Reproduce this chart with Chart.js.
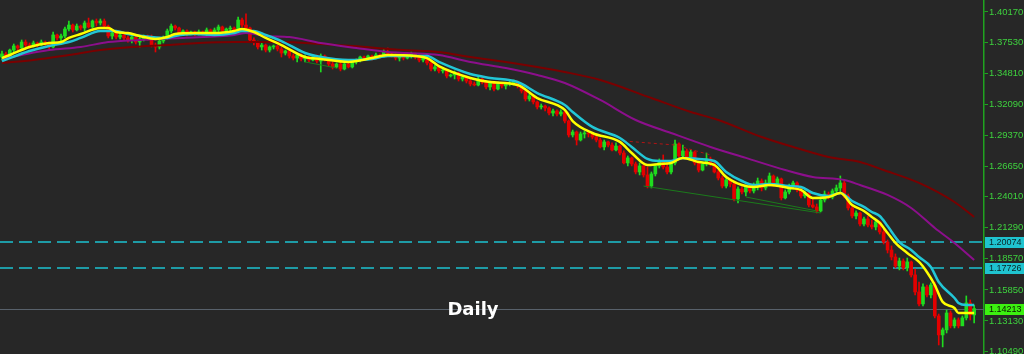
<!DOCTYPE html>
<html>
<head>
<meta charset="utf-8">
<title>Daily</title>
<script src="https://cdn.jsdelivr.net/npm/chart.js@4.4.1/dist/chart.umd.min.js"></script>
<style>
  html, body { margin: 0; padding: 0; background: #272727; overflow: hidden; }
</style>
</head>
<body>
<canvas id="priceChart" width="1024" height="354"></canvas>
<script>
// Daily candles, oldest first
const days = Array.from({ length: 250 }, (_, i) => i);

const opens = [
  1.3623,1.3650,1.3623,1.3684,1.3720,1.3702,1.3754,1.3728,1.3720,1.3746,
  1.3728,1.3754,1.3737,1.3711,1.3816,1.3790,1.3807,1.3868,1.3903,1.3860,
  1.3894,1.3877,1.3921,1.3886,1.3938,1.3921,1.3938,1.3894,1.3807,1.3833,
  1.3798,1.3816,1.3790,1.3772,1.3798,1.3754,1.3781,1.3807,1.3790,1.3728,
  1.3711,1.3763,1.3790,1.3851,1.3894,1.3877,1.3833,1.3851,1.3824,1.3842,
  1.3824,1.3842,1.3833,1.3860,1.3833,1.3860,1.3886,1.3851,1.3868,1.3877,
  1.3860,1.3947,1.3903,1.3877,1.3772,1.3754,1.3711,1.3728,1.3684,1.3711,
  1.3720,1.3693,1.3658,1.3676,1.3632,1.3614,1.3641,1.3606,1.3623,1.3597,
  1.3623,1.3588,1.3632,1.3606,1.3562,1.3536,1.3562,1.3518,1.3562,1.3536,
  1.3580,1.3597,1.3623,1.3606,1.3632,1.3614,1.3641,1.3632,1.3667,1.3650,
  1.3641,1.3614,1.3632,1.3614,1.3632,1.3650,1.3623,1.3597,1.3614,1.3571,
  1.3518,1.3536,1.3501,1.3510,1.3457,1.3466,1.3483,1.3431,1.3448,1.3413,
  1.3387,1.3378,1.3431,1.3404,1.3361,1.3396,1.3343,1.3387,1.3370,1.3387,
  1.3396,1.3404,1.3370,1.3326,1.3256,1.3282,1.3230,1.3186,1.3194,1.3177,
  1.3133,1.3151,1.3124,1.3142,1.3063,1.2941,1.2967,1.2897,1.2950,1.2958,
  1.2950,1.2923,1.2897,1.2836,1.2880,1.2853,1.2810,1.2844,1.2783,1.2696,
  1.2740,1.2687,1.2617,1.2670,1.2591,1.2494,1.2600,1.2670,1.2713,1.2661,
  1.2617,1.2696,1.2862,1.2757,1.2801,1.2748,1.2792,1.2696,1.2634,1.2687,
  1.2731,1.2687,1.2617,1.2564,1.2494,1.2547,1.2512,1.2381,1.2468,1.2442,
  1.2486,1.2451,1.2503,1.2538,1.2477,1.2521,1.2582,1.2512,1.2556,1.2390,
  1.2442,1.2494,1.2521,1.2460,1.2407,1.2433,1.2328,1.2311,1.2276,1.2372,
  1.2424,1.2398,1.2451,1.2477,1.2521,1.2407,1.2302,1.2232,1.2258,1.2162,
  1.2206,1.2153,1.2136,1.2180,1.2092,1.2004,1.1934,1.1873,1.1794,1.1838,
  1.1777,1.1830,1.1716,1.1567,1.1462,1.1611,1.1541,1.1628,1.1357,1.1191,
  1.1235,1.1383,1.1270,1.1322,1.1270,1.1340,1.1471,1.1366
];
const highs = [
  1.3676,1.3667,1.3693,1.3737,1.3728,1.3772,1.3772,1.3746,1.3763,1.3754,
  1.3772,1.3763,1.3754,1.3842,1.3824,1.3824,1.3886,1.3938,1.3912,1.3912,
  1.3903,1.3938,1.3964,1.3947,1.3956,1.3956,1.3956,1.3903,1.3851,1.3842,
  1.3842,1.3833,1.3807,1.3816,1.3807,1.3798,1.3816,1.3816,1.3816,1.3746,
  1.3781,1.3807,1.3868,1.3912,1.3903,1.3886,1.3860,1.3860,1.3851,1.3851,
  1.3860,1.3851,1.3877,1.3868,1.3877,1.3903,1.3894,1.3877,1.3894,1.3886,
  1.3973,1.3964,1.4000,1.3886,1.3790,1.3763,1.3746,1.3737,1.3720,1.3728,
  1.3728,1.3711,1.3684,1.3684,1.3650,1.3658,1.3650,1.3641,1.3632,1.3632,
  1.3641,1.3650,1.3641,1.3614,1.3580,1.3571,1.3580,1.3580,1.3571,1.3588,
  1.3606,1.3632,1.3632,1.3641,1.3641,1.3658,1.3650,1.3693,1.3702,1.3658,
  1.3650,1.3641,1.3641,1.3641,1.3667,1.3658,1.3641,1.3623,1.3623,1.3580,
  1.3553,1.3544,1.3527,1.3518,1.3474,1.3501,1.3492,1.3457,1.3457,1.3431,
  1.3404,1.3448,1.3440,1.3413,1.3413,1.3404,1.3404,1.3396,1.3396,1.3413,
  1.3422,1.3413,1.3378,1.3334,1.3300,1.3291,1.3238,1.3212,1.3203,1.3186,
  1.3168,1.3160,1.3160,1.3151,1.3072,1.2984,1.2976,1.2967,1.2976,1.2967,
  1.2958,1.2941,1.2914,1.2897,1.2888,1.2871,1.2871,1.2853,1.2801,1.2757,
  1.2748,1.2704,1.2696,1.2678,1.2661,1.2617,1.2687,1.2731,1.2766,1.2704,
  1.2713,1.2897,1.2871,1.2853,1.2818,1.2810,1.2801,1.2713,1.2704,1.2783,
  1.2748,1.2704,1.2634,1.2582,1.2564,1.2556,1.2530,1.2486,1.2486,1.2503,
  1.2503,1.2521,1.2564,1.2556,1.2547,1.2608,1.2591,1.2573,1.2564,1.2460,
  1.2512,1.2538,1.2530,1.2477,1.2451,1.2442,1.2381,1.2337,1.2398,1.2451,
  1.2442,1.2468,1.2503,1.2582,1.2538,1.2424,1.2320,1.2276,1.2267,1.2223,
  1.2232,1.2197,1.2197,1.2188,1.2118,1.2022,1.1970,1.1900,1.1864,1.1856,
  1.1864,1.1838,1.1768,1.1654,1.1637,1.1628,1.1646,1.1654,1.1374,1.1252,
  1.1410,1.1401,1.1340,1.1340,1.1357,1.1532,1.1497,1.1453
];
const lows = [
  1.3597,1.3606,1.3614,1.3667,1.3684,1.3693,1.3711,1.3702,1.3711,1.3711,
  1.3720,1.3720,1.3693,1.3702,1.3772,1.3763,1.3790,1.3851,1.3842,1.3851,
  1.3860,1.3851,1.3877,1.3877,1.3894,1.3903,1.3877,1.3790,1.3781,1.3781,
  1.3781,1.3772,1.3754,1.3746,1.3737,1.3711,1.3763,1.3772,1.3711,1.3667,
  1.3693,1.3746,1.3781,1.3833,1.3860,1.3816,1.3824,1.3807,1.3816,1.3807,
  1.3816,1.3816,1.3798,1.3816,1.3824,1.3842,1.3833,1.3833,1.3851,1.3842,
  1.3851,1.3886,1.3868,1.3754,1.3728,1.3693,1.3684,1.3667,1.3667,1.3693,
  1.3676,1.3623,1.3641,1.3614,1.3597,1.3580,1.3588,1.3580,1.3580,1.3588,
  1.3571,1.3492,1.3588,1.3544,1.3518,1.3527,1.3501,1.3510,1.3527,1.3527,
  1.3562,1.3580,1.3597,1.3597,1.3597,1.3606,1.3614,1.3623,1.3632,1.3623,
  1.3597,1.3588,1.3597,1.3606,1.3614,1.3606,1.3580,1.3580,1.3553,1.3501,
  1.3501,1.3483,1.3483,1.3440,1.3448,1.3431,1.3413,1.3413,1.3396,1.3370,
  1.3370,1.3370,1.3387,1.3343,1.3334,1.3326,1.3334,1.3352,1.3343,1.3370,
  1.3378,1.3352,1.3308,1.3238,1.3238,1.3212,1.3168,1.3168,1.3151,1.3116,
  1.3107,1.3107,1.3107,1.3046,1.2923,1.2923,1.2853,1.2888,1.2914,1.2923,
  1.2906,1.2880,1.2827,1.2810,1.2836,1.2801,1.2801,1.2766,1.2687,1.2670,
  1.2670,1.2600,1.2591,1.2573,1.2477,1.2477,1.2582,1.2652,1.2643,1.2600,
  1.2600,1.2678,1.2740,1.2740,1.2731,1.2740,1.2678,1.2617,1.2626,1.2670,
  1.2670,1.2608,1.2547,1.2477,1.2477,1.2486,1.2363,1.2346,1.2424,1.2407,
  1.2433,1.2433,1.2460,1.2451,1.2460,1.2494,1.2494,1.2494,1.2372,1.2381,
  1.2424,1.2468,1.2442,1.2390,1.2390,1.2311,1.2302,1.2258,1.2267,1.2354,
  1.2381,1.2381,1.2424,1.2442,1.2390,1.2284,1.2214,1.2206,1.2144,1.2144,
  1.2136,1.2118,1.2110,1.2074,1.1987,1.1908,1.1847,1.1777,1.1760,1.1760,
  1.1751,1.1698,1.1541,1.1444,1.1444,1.1523,1.1514,1.1340,1.1103,1.1086,
  1.1208,1.1252,1.1252,1.1252,1.1278,1.1322,1.1322,1.1296
];
const closes = [
  1.3650,1.3623,1.3684,1.3720,1.3702,1.3754,1.3728,1.3720,1.3746,1.3728,
  1.3754,1.3737,1.3711,1.3816,1.3790,1.3807,1.3868,1.3903,1.3860,1.3894,
  1.3877,1.3921,1.3886,1.3938,1.3921,1.3938,1.3894,1.3807,1.3833,1.3798,
  1.3816,1.3790,1.3772,1.3798,1.3754,1.3781,1.3807,1.3790,1.3728,1.3711,
  1.3763,1.3790,1.3851,1.3894,1.3877,1.3833,1.3851,1.3824,1.3842,1.3824,
  1.3842,1.3833,1.3860,1.3833,1.3860,1.3886,1.3851,1.3868,1.3877,1.3860,
  1.3947,1.3903,1.3877,1.3772,1.3754,1.3711,1.3728,1.3684,1.3711,1.3720,
  1.3693,1.3658,1.3676,1.3632,1.3614,1.3641,1.3606,1.3623,1.3597,1.3623,
  1.3588,1.3632,1.3606,1.3562,1.3536,1.3562,1.3518,1.3562,1.3536,1.3580,
  1.3597,1.3623,1.3606,1.3632,1.3614,1.3641,1.3632,1.3667,1.3650,1.3641,
  1.3614,1.3632,1.3614,1.3632,1.3650,1.3623,1.3597,1.3614,1.3571,1.3518,
  1.3536,1.3501,1.3510,1.3457,1.3466,1.3483,1.3431,1.3448,1.3413,1.3387,
  1.3378,1.3431,1.3404,1.3361,1.3396,1.3343,1.3387,1.3370,1.3387,1.3396,
  1.3404,1.3370,1.3326,1.3256,1.3282,1.3230,1.3186,1.3194,1.3177,1.3133,
  1.3151,1.3124,1.3142,1.3063,1.2941,1.2967,1.2897,1.2950,1.2958,1.2950,
  1.2923,1.2897,1.2836,1.2880,1.2853,1.2810,1.2844,1.2783,1.2696,1.2740,
  1.2687,1.2617,1.2670,1.2591,1.2494,1.2600,1.2670,1.2713,1.2661,1.2617,
  1.2696,1.2862,1.2757,1.2801,1.2748,1.2792,1.2696,1.2634,1.2687,1.2731,
  1.2687,1.2617,1.2564,1.2494,1.2547,1.2512,1.2381,1.2468,1.2442,1.2486,
  1.2451,1.2503,1.2538,1.2477,1.2521,1.2582,1.2512,1.2556,1.2390,1.2442,
  1.2494,1.2521,1.2460,1.2407,1.2433,1.2328,1.2311,1.2276,1.2372,1.2424,
  1.2398,1.2451,1.2477,1.2521,1.2407,1.2302,1.2232,1.2258,1.2162,1.2206,
  1.2153,1.2136,1.2180,1.2092,1.2004,1.1934,1.1873,1.1794,1.1838,1.1777,
  1.1830,1.1716,1.1567,1.1462,1.1611,1.1541,1.1628,1.1357,1.1191,1.1235,
  1.1383,1.1270,1.1322,1.1270,1.1340,1.1471,1.1366,1.1421
];

// moving averages: [candle, price]
const fastMA = [
  [0,1.3614],[2,1.3641],[7,1.3711],[12,1.3746],[15,1.3754],[17,1.3790],[20,1.3824],[25,1.3877],
  [27,1.3877],[29,1.3842],[32,1.3833],[35,1.3807],[39,1.3781],[42,1.3798],[44,1.3824],[49,1.3833],
  [54,1.3833],[59,1.3851],[61,1.3868],[64,1.3842],[67,1.3790],[71,1.3728],[77,1.3623],[81,1.3606],
  [88,1.3580],[94,1.3614],[98,1.3641],[105,1.3632],[108,1.3614],[111,1.3544],[119,1.3440],[124,1.3404],
  [131,1.3378],[136,1.3264],[143,1.3160],[145,1.3063],[150,1.2958],[157,1.2880],[160,1.2783],[164,1.2678],
  [167,1.2687],[170,1.2696],[173,1.2740],[177,1.2704],[181,1.2678],[184,1.2573],[188,1.2503],[191,1.2486],
  [195,1.2503],[200,1.2477],[203,1.2460],[206,1.2390],[210,1.2398],[213,1.2433],[216,1.2328],[219,1.2276],
  [221,1.2223],[223,1.2171],[225,1.2083],[227,1.1996],[230,1.1908],[233,1.1830],[235,1.1742],[237,1.1628],
  [239,1.1480],[242,1.1427],[243,1.1383],[245,1.1383],[247,1.1383]
];
const midMA = [
  [0,1.3588],[7,1.3676],[12,1.3720],[17,1.3754],[20,1.3790],[25,1.3851],[29,1.3851],[32,1.3824],
  [38,1.3798],[42,1.3790],[44,1.3807],[49,1.3824],[54,1.3816],[59,1.3833],[61,1.3851],[64,1.3851],
  [67,1.3816],[71,1.3763],[77,1.3658],[81,1.3623],[88,1.3597],[94,1.3606],[98,1.3632],[105,1.3632],
  [108,1.3632],[111,1.3580],[119,1.3474],[124,1.3440],[131,1.3404],[136,1.3308],[143,1.3203],[145,1.3142],
  [150,1.3011],[157,1.2914],[160,1.2836],[164,1.2731],[167,1.2713],[170,1.2713],[173,1.2740],[177,1.2731],
  [181,1.2713],[184,1.2617],[188,1.2538],[191,1.2503],[195,1.2512],[200,1.2494],[203,1.2486],[206,1.2433],
  [210,1.2407],[213,1.2433],[216,1.2363],[219,1.2311],[221,1.2267],[223,1.2232],[225,1.2144],[228,1.2004],
  [231,1.1934],[233,1.1873],[236,1.1786],[238,1.1654],[242,1.1514],[243,1.1471],[245,1.1453],[247,1.1453]
];
const slowMA = [
  [0,1.3606],[5,1.3641],[12,1.3684],[20,1.3711],[27,1.3754],[35,1.3772],[46,1.3790],[59,1.3816],
  [62,1.3833],[67,1.3807],[73,1.3798],[81,1.3746],[90,1.3702],[98,1.3667],[103,1.3658],[111,1.3641],
  [119,1.3580],[128,1.3527],[136,1.3466],[143,1.3396],[152,1.3247],[161,1.3072],[170,1.2958],[180,1.2836],
  [189,1.2740],[199,1.2634],[206,1.2573],[214,1.2547],[218,1.2503],[225,1.2416],[231,1.2302],[237,1.2127],
  [242,1.1996],[247,1.1847]
];
const longMA = [
  [0,1.3571],[8,1.3597],[17,1.3641],[25,1.3684],[33,1.3711],[42,1.3728],[50,1.3746],[59,1.3754],
  [71,1.3754],[81,1.3737],[89,1.3720],[102,1.3684],[111,1.3667],[119,1.3623],[128,1.3580],[136,1.3536],
  [143,1.3492],[152,1.3422],[165,1.3264],[175,1.3142],[182,1.3072],[193,1.2923],[201,1.2836],[210,1.2748],
  [218,1.2704],[224,1.2634],[233,1.2521],[242,1.2354],[247,1.2223]
];

// hand-drawn trend lines
const resistanceLine = [[158,1.2888],[171,1.2853],[180,1.2766]];
const supportLines = [
  [[163,1.2494],[208,1.2258]],
  [[189,1.2398],[207,1.2276]],
  [[77,1.3580],[85,1.3527]]
];

// price axis
const yTicks = [1.40170,1.37530,1.34810,1.32090,1.29370,1.26650,1.24010,1.21290,1.18570,1.15850,1.13130,1.10490];
const yMin = 1.1024;
const yMax = 1.4122;
const levels = [1.20074, 1.17726];
const lastPrice = 1.14213;
const caption = 'Daily';

const bull = '#1fdc1f';
const bear = '#e40000';
const axisGreen = '#1fa31f';
const candleColors = closes.map((c, i) => (c >= opens[i] ? bull : bear));
const toPoints = arr => arr.map(([x, y]) => ({ x, y }));

function maLine(label, data, color, width, order) {
  return {
    type: 'line', label, data: toPoints(data),
    borderColor: color, borderWidth: width, pointRadius: 0, pointHoverRadius: 0,
    cubicInterpolationMode: 'monotone', order
  };
}

function trendLine(data, color, dash) {
  return {
    type: 'line', label: 'trend', data: toPoints(data),
    borderColor: color, borderWidth: 1, borderDash: dash, pointRadius: 0,
    tension: 0, order: 4
  };
}

const overlay = {
  id: 'overlay',
  beforeDraw(chart) {
    const ctx = chart.ctx;
    ctx.save();
    ctx.fillStyle = '#272727';
    ctx.fillRect(0, 0, chart.width, chart.height);
    ctx.restore();
  },
  beforeDatasetsDraw(chart) {
    const { ctx, chartArea } = chart;
    const y = chart.scales.y;
    ctx.save();
    ctx.strokeStyle = '#1e9ba6';
    ctx.lineWidth = 2;
    ctx.setLineDash([13, 6]);
    levels.forEach(v => {
      const py = Math.round(y.getPixelForValue(v));
      ctx.beginPath();
      ctx.moveTo(chartArea.left, py);
      ctx.lineTo(chartArea.right, py);
      ctx.stroke();
    });
    ctx.setLineDash([]);
    ctx.lineWidth = 1;
    ctx.strokeStyle = '#58616b';
    const lp = Math.round(y.getPixelForValue(lastPrice)) + 0.5;
    ctx.beginPath();
    ctx.moveTo(chartArea.left, lp);
    ctx.lineTo(chartArea.right, lp);
    ctx.stroke();
    ctx.restore();
  },
  afterDraw(chart) {
    const { ctx, chartArea } = chart;
    const y = chart.scales.y;
    ctx.save();
    ctx.font = '9px "Liberation Sans"';
    ctx.textBaseline = 'middle';
    ctx.textAlign = 'left';
    const box = (v, fill, text) => {
      const py = Math.round(y.getPixelForValue(v));
      ctx.fillStyle = fill;
      ctx.fillRect(y.left + 1, py - 5, chart.width - y.left - 1, 11);
      ctx.fillStyle = text;
      ctx.fillText(v.toFixed(5), y.left + 5, py + 0.5);
    };
    levels.forEach(v => box(v, '#1fc3cf', '#0b2426'));
    box(lastPrice, '#3cf010', '#0a1a00');

    const ly = y.getPixelForValue(lastPrice);
    ctx.font = 'bold 18px "DejaVu Sans"';
    ctx.textAlign = 'center';
    ctx.textBaseline = 'alphabetic';
    ctx.fillStyle = '#ffffff';
    ctx.fillText(caption, chartArea.left + 473, ly + 6);
    ctx.restore();
  }
};

const ctx = document.getElementById('priceChart').getContext('2d');
const priceChart = new Chart(ctx, {
  type: 'bar',
  data: {
    labels: days,
    datasets: [
      maLine('Fast MA', fastMA, '#ffff00', 2.5, 0),
      maLine('Mid MA', midMA, '#22c6d6', 2.5, 1),
      maLine('Slow MA', slowMA, '#8c0f8c', 2, 2),
      maLine('Long MA', longMA, '#7a0000', 2, 3),
      trendLine(resistanceLine, '#b01414', [3, 3]),
      ...supportLines.map(s => trendLine(s, '#1b7a1b', [])),
      {
        label: 'Body',
        data: opens.map((o, i) => [o, closes[i]]),
        backgroundColor: candleColors,
        barThickness: 3,
        minBarLength: 1,
        grouped: false,
        order: 5
      },
      {
        label: 'Wick',
        data: lows.map((l, i) => [l, highs[i]]),
        backgroundColor: candleColors,
        barThickness: 1,
        grouped: false,
        order: 6
      }
    ]
  },
  options: {
    responsive: false,
    animation: false,
    devicePixelRatio: 1,
    layout: { padding: 0 },
    plugins: {
      legend: { display: false },
      tooltip: { enabled: false }
    },
    scales: {
      x: {
        type: 'category',
        display: false,
        offset: true
      },
      y: {
        type: 'linear',
        position: 'right',
        min: yMin,
        max: yMax,
        afterBuildTicks: s => { s.ticks = yTicks.map(v => ({ value: v })); },
        afterFit: s => {
          s.width = 40;
          s.paddingTop = 0;
          s.paddingBottom = 0;
        },
        grid: { drawOnChartArea: false, drawTicks: true, tickLength: 4, color: axisGreen },
        border: { color: axisGreen, width: 1.5 },
        ticks: {
          color: '#3ed23e',
          autoSkip: false,
          padding: 1,
          font: { family: 'Liberation Sans', size: 9.5 },
          callback: v => v.toFixed(5)
        }
      }
    }
  },
  plugins: [overlay]
});
</script>
</body>
</html>
